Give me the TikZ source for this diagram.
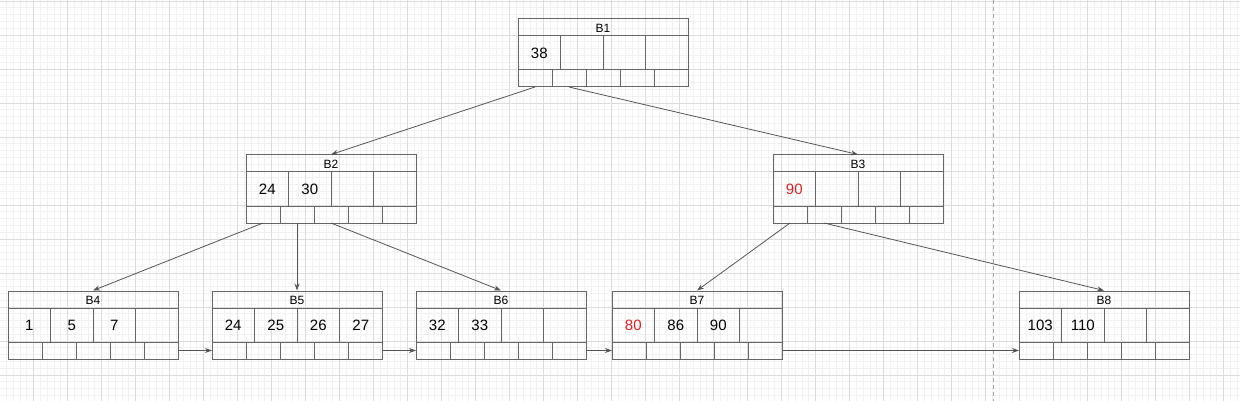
\documentclass[tikz,border=0pt]{standalone}
\usepackage{fontspec}
\setmainfont{Liberation Sans}
\usetikzlibrary{arrows.meta}
\definecolor{boxline}{HTML}{666666}
\definecolor{edgecol}{HTML}{555555}
\definecolor{gridminor}{HTML}{F1F1F1}
\definecolor{gridmajor}{HTML}{DCDCDC}
\definecolor{valred}{HTML}{E02020}
\tikzset{
  box/.style={draw=boxline, line width=1pt, minimum width=170pt, minimum height=68pt, inner sep=0pt},
  cellline/.style={draw=boxline, line width=1pt},
  hdr/.style={font=\fontsize{12}{14}\selectfont, inner sep=0pt},
  val/.style={font=\fontsize{15}{18}\selectfont, inner sep=0pt},
  edge/.style={draw=edgecol, line width=0.8pt, -{Stealth[length=7pt,width=5pt]}},
  minorg/.style={draw=gridminor, line width=0.7pt},
  majorg/.style={draw=gridmajor, line width=0.7pt},
}
\newcommand\BNode[8]{%
  \node[box] (#1) at ({#2+85},{#3+34}) {};
  \draw[cellline] (#2,{#3+17}) -- ++(170,0);
  \draw[cellline] (#2,{#3+51}) -- ++(170,0);
  \foreach \i in {1,2,3} \draw[cellline] ({#2+42.5*\i},{#3+17}) -- ++(0,34);
  \foreach \i in {1,...,4} \draw[cellline] ({#2+34*\i},{#3+51}) -- ++(0,17);
  \node[hdr] (#1h) at ({#2+85},{#3+9}) {#4};
  \node[val] (#1a) at ({#2+21.25},{#3+34.5}) {#5};
  \node[val] (#1b) at ({#2+63.75},{#3+34.5}) {#6};
  \node[val] (#1c) at ({#2+106.25},{#3+34.5}) {#7};
  \node[val] (#1d) at ({#2+148.75},{#3+34.5}) {#8};
  \coordinate (#1p1) at ({#2+17},{#3+68});
  \coordinate (#1p2) at ({#2+51},{#3+68});
  \coordinate (#1p3) at ({#2+85},{#3+68});
  \coordinate (#1l) at (#2,{#3+59.5});
  \coordinate (#1r) at ({#2+170},{#3+59.5});
}
\begin{document}
\begin{tikzpicture}[x=1pt,y=-1pt]
\useasboundingbox (0,0) rectangle (1240,401);
\fill[white] (0,0) rectangle (1240,401);
% grid
\foreach \k in {0,...,183} \draw[minorg] ({6.8*\k-0.5},0) -- ++(0,401);
\foreach \k in {0,...,59} \draw[minorg] (0,{6.8*\k+1}) -- ++(1240,0);
\foreach \k in {1,...,36} \draw[majorg] ({34*\k-0.5},0) -- ++(0,401);
\foreach \k in {0,...,11} \draw[majorg] (0,{34*\k+1}) -- ++(1240,0);
% dashed separator
\coordinate (sepTop) at (993.3,0);
\coordinate (sepBot) at (993.3,401);
\draw[draw=gray!70, line width=0.8pt, dash pattern=on 4pt off 3pt] (sepTop) -- (sepBot);
% nodes
\BNode{b1}{518}{19}{B1}{38}{}{}{}
\BNode{b2}{246}{155}{B2}{24}{30}{}{}
\BNode{b3}{773}{155}{B3}{\textcolor{valred}{90}}{}{}{}
\BNode{b4}{8}{291}{B4}{1}{5}{7}{}
\BNode{b5}{212}{291}{B5}{24}{25}{26}{27}
\BNode{b6}{416}{291}{B6}{32}{33}{}{}
\BNode{b7}{612}{291}{B7}{\textcolor{valred}{80}}{86}{90}{}
\BNode{b8}{1019}{291}{B8}{103}{110}{}{}
% edges
\draw[edge] (b1p1) -- (b2.north);
\draw[edge] (b1p2) -- (b3.north);
\draw[edge] (b2p1) -- (b4.north);
\draw[edge] (b2p2) -- (b5.north);
\draw[edge] (b2p3) -- (b6.north);
\draw[edge] (b3p1) -- (b7.north);
\draw[edge] (b3p2) -- (b8.north);
\draw[edge] (b4r) -- (b5l);
\draw[edge] (b5r) -- (b6l);
\draw[edge] (b6r) -- (b7l);
\draw[edge] (b7r) -- (b8l);
\end{tikzpicture}
\end{document}
